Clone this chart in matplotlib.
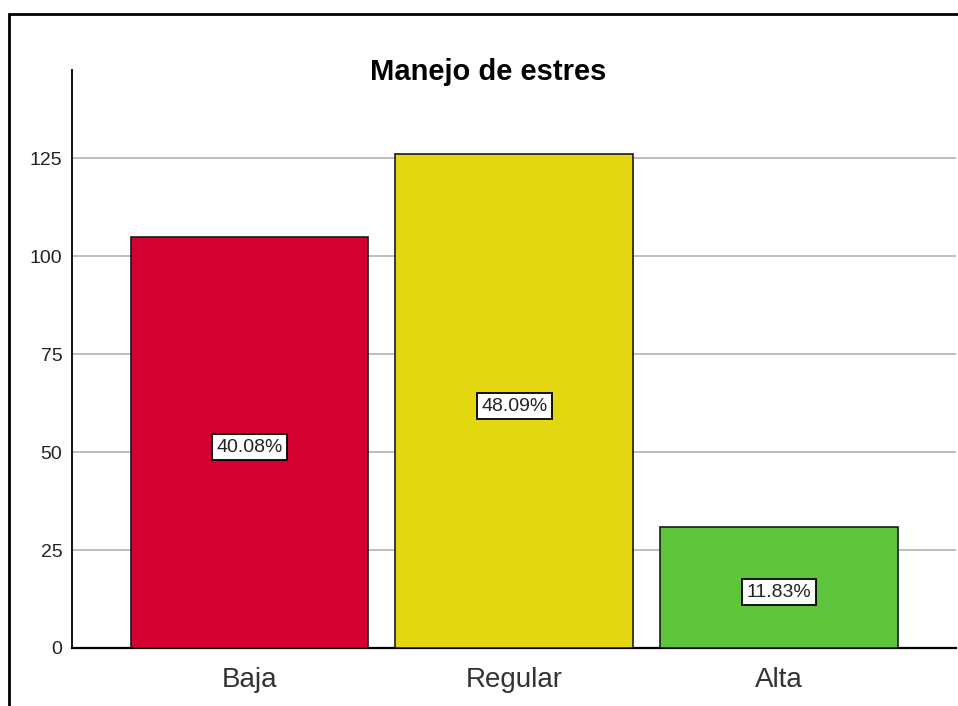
import matplotlib.pyplot as plt
from matplotlib.patches import Rectangle

plt.rcParams['font.family'] = ['Liberation Sans', 'DejaVu Sans']

categories = ["Baja", "Regular", "Alta"]
counts = [105, 126, 31]
percent_labels = ["40.08%", "48.09%", "11.83%"]
colors = ["#D50032", "#E3D712", "#5DC43B"]
yticks = [0, 25, 50, 75, 100, 125]

W, H = 958, 706
fig = plt.figure(figsize=(W / 100, H / 100), dpi=100)
ax = fig.add_axes([72 / W, 58 / H, 884 / W, 578 / H])

x = list(range(len(categories)))
ax.bar(x, counts, width=0.898, color=colors, edgecolor="#1a1a1a", linewidth=1.2, zorder=3)

for xi, c, lab in zip(x, counts, percent_labels):
    ax.annotate(lab, (xi, c / 2), xytext=(0, -5), textcoords="offset pixels",
                ha="center", va="center", fontsize=14, color="#222222", zorder=5,
                bbox=dict(boxstyle="square,pad=0.22", fc="white", ec="black", lw=1.3))

ax.set_xlim(-0.67, 2.668)
ax.set_ylim(0, 147.5)
ax.set_yticks(yticks)
ax.set_xticks(x)
ax.set_xticklabels(categories, fontsize=20, color="#333333")
ax.tick_params(axis="x", length=0, pad=14)
ax.tick_params(axis="y", length=0, pad=7, labelsize=14, labelcolor="#222222")
ax.yaxis.grid(True, color="#BEBEBE", linewidth=1.4, zorder=0)
ax.set_axisbelow(True)

for s in ["top", "right"]:
    ax.spines[s].set_visible(False)
ax.spines["left"].set_linewidth(1.3)
ax.spines["bottom"].set_linewidth(1.6)

fig.text(488 / W, 1 - 72 / H, "Manejo de estres", ha="center", va="center",
         fontsize=21, fontweight="bold")

# outer frame, runs off the right and bottom edges
fig.patches.append(Rectangle((9 / W, -0.1), 1.0, 1 - 14 / H + 0.1, transform=fig.transFigure,
                             fill=False, edgecolor="black", linewidth=2))

fig.savefig("out.png", dpi=100)
